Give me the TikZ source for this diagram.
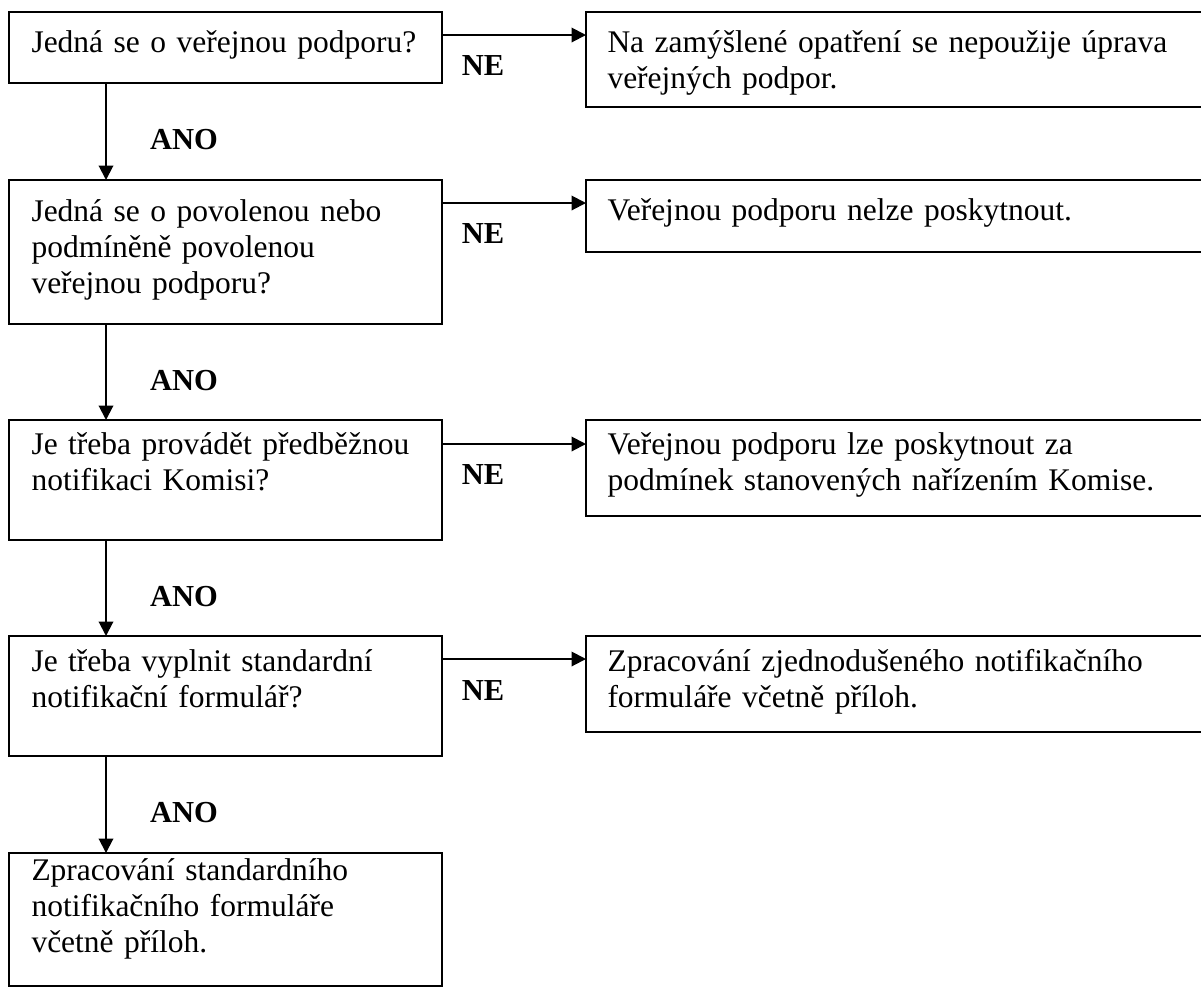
\documentclass[tikz,border=0pt]{standalone}
\usepackage{fontspec}
\setmainfont{Liberation Serif}
\usetikzlibrary{arrows.meta}
\tikzset{
  qbox/.style={draw,line width=0.9pt,anchor=north west,inner sep=0pt,outer sep=0pt,minimum width=173.2pt},
  rbox/.style={draw,line width=0.9pt,anchor=north west,inner sep=0pt,outer sep=0pt,minimum width=249.6pt},
  txt/.style={anchor=base west,inner sep=0pt,text width=240pt,align=left,font=\fontsize{12.6}{14.4}\selectfont},
  lbl/.style={inner sep=0pt,font=\fontsize{12.2}{14}\selectfont\bfseries},
  arr/.style={line width=0.8pt,-{Triangle[length=5.8pt,width=5.8pt]}}
}
\begin{document}
\begin{tikzpicture}[x=0.4pt,y=-0.4pt]
  \useasboundingbox (0,0) rectangle (1201,989);
  % question boxes
  \node[qbox,minimum height=28.4pt](q1)at(9,12){};
  \node[qbox,minimum height=57.6pt](q2)at(9,180){};
  \node[qbox,minimum height=48pt](q3)at(9,420){};
  \node[qbox,minimum height=48pt](q4)at(9,636){};
  \node[qbox,minimum height=53.2pt](q5)at(9,853){};
  % result boxes
  \node[rbox,minimum height=38pt](r1)at(586,12){};
  \node[rbox,minimum height=28.8pt](r2)at(586,180){};
  \node[rbox,minimum height=38.4pt](r3)at(586,420){};
  \node[rbox,minimum height=38.4pt](r4)at(586,636){};
  % texts
  \node[txt](q1t)at(31,52){Jedná se o veřejnou podporu?};
  \node[txt](q2t)at(31,221){Jedná se o povolenou nebo\\podmíněně povolenou\\veřejnou podporu?};
  \node[txt](q3t)at(31,454){Je třeba provádět předběžnou\\notifikaci Komisi?};
  \node[txt](q4t)at(31,671){Je třeba vyplnit standardní\\notifikační formulář?};
  \node[txt](q5t)at(31,880){Zpracování standardního\\notifikačního formuláře\\včetně příloh.};
  \node[txt](r1t)at(607,52){Na zamýšlené opatření se nepoužije úprava\\veřejných podpor.};
  \node[txt](r2t)at(607,220){Veřejnou podporu nelze poskytnout.};
  \node[txt](r3t)at(607,454){Veřejnou podporu lze poskytnout za\\podmínek stanovených nařízením Komise.};
  \node[txt](r4t)at(607,671){Zpracování zjednodušeného notifikačního\\formuláře včetně příloh.};
  % NE branches
  \draw[arr]([yshift=-9.2pt]q1.north east)--([yshift=-9.2pt]r1.north west);
  \draw[arr]([yshift=-9.2pt]q2.north east)--([yshift=-9.2pt]r2.north west);
  \draw[arr]([yshift=-9.6pt]q3.north east)--([yshift=-9.6pt]r3.north west);
  \draw[arr]([yshift=-9.2pt]q4.north east)--([yshift=-9.2pt]r4.north west);
  \node[lbl](ne1)at(483,66){NE};
  \node[lbl](ne2)at(483,234){NE};
  \node[lbl](ne3)at(483,475){NE};
  \node[lbl](ne4)at(483,690){NE};
  % ANO branches
  \draw[arr]([xshift=38.8pt]q1.south west)--([xshift=38.8pt]q2.north west);
  \draw[arr]([xshift=38.8pt]q2.south west)--([xshift=38.8pt]q3.north west);
  \draw[arr]([xshift=38.8pt]q3.south west)--([xshift=38.8pt]q4.north west);
  \draw[arr]([xshift=38.8pt]q4.south west)--([xshift=38.8pt]q5.north west);
  \node[lbl](ano1)at(184,140){ANO};
  \node[lbl](ano2)at(184,381){ANO};
  \node[lbl](ano3)at(184,597){ANO};
  \node[lbl](ano4)at(184,813){ANO};
\end{tikzpicture}
\end{document}
